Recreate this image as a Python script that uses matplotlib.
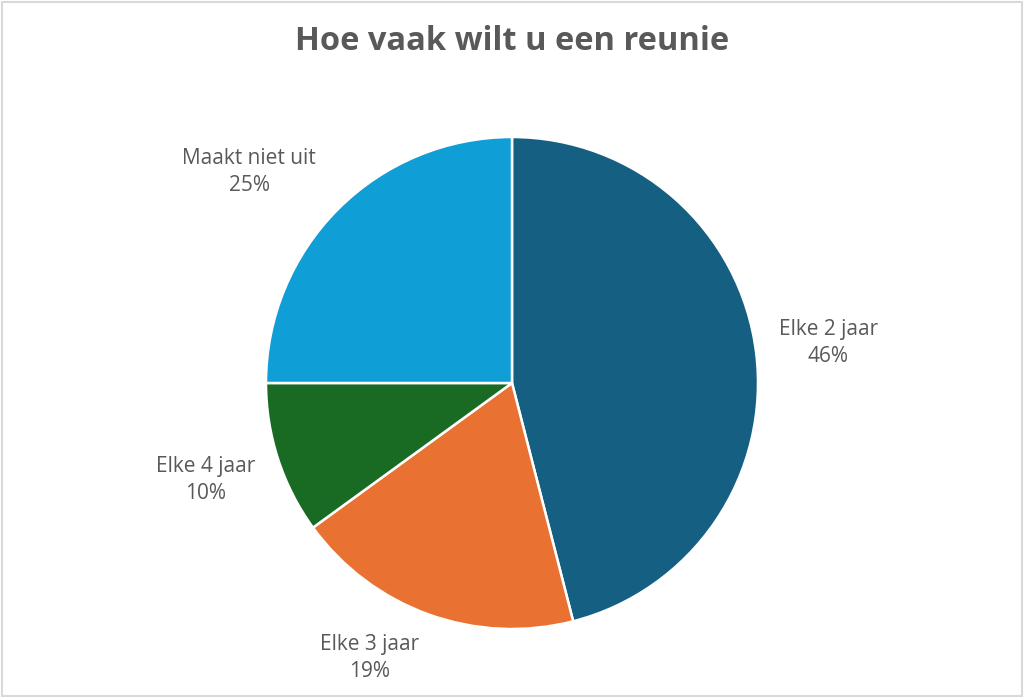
import matplotlib.pyplot as plt
from matplotlib.patches import Rectangle

# data
categories = ["Elke 2 jaar", "Elke 3 jaar", "Elke 4 jaar", "Maakt niet uit"]
values = [46, 19, 10, 25]
colors = ["#156082", "#E97132", "#196B24", "#0F9ED5"]
title = "Hoe vaak wilt u een reunie"

# label placement (data units, radius = 1)
label_xy = [(1.285, 0.163), (-0.577, -1.118), (-1.244, -0.394), (-1.069, 0.858)]

text_color = "#595959"
plt.rcParams['font.family'] = ['Open Sans', 'DejaVu Sans']

fig = plt.figure(figsize=(10.24, 6.98), dpi=100)
fig.patches.append(Rectangle((0.002, 0.003), 0.996, 0.994, transform=fig.transFigure,
                             fill=False, edgecolor="#D9D9D9", linewidth=1.5))

# pie centred at (512, 383) px with radius 246 px
r_px = 246
ax = fig.add_axes([(512 - r_px) / 1024, (698 - 383 - r_px) / 698, 2 * r_px / 1024, 2 * r_px / 698])
ax.pie(values, colors=colors, startangle=90, counterclock=False, radius=1,
       wedgeprops=dict(edgecolor="white", linewidth=1.8))
ax.set_xlim(-1, 1)
ax.set_ylim(-1, 1)
ax.set_aspect("equal")
ax.axis("off")

total = sum(values)
for cat, v, (lx, ly) in zip(categories, values, label_xy):
    ax.text(lx, ly, f"{cat}\n{round(100 * v / total)}%", ha="center", va="center",
            fontsize=15, color=text_color, linespacing=1.33, clip_on=False)

fig.text(0.5, 1 - 42 / 698, title, ha="center", va="center", fontsize=23.5,
         fontweight="bold", color=text_color)

fig.savefig("out.png", dpi=100)
